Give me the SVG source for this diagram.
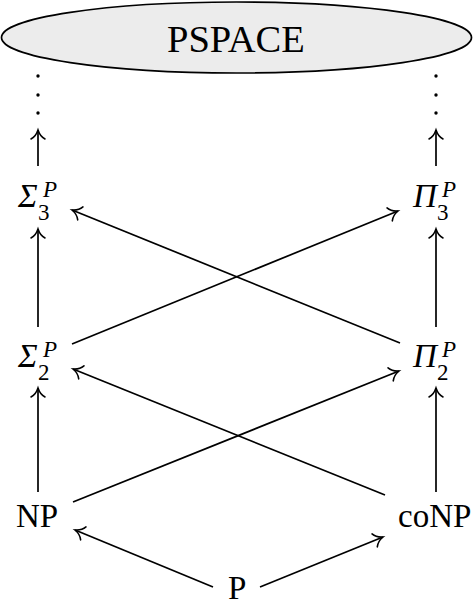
<svg xmlns="http://www.w3.org/2000/svg" width="473" height="607" viewBox="0 0 473 607">
<style>
.t{font-family:"Liberation Serif","Times New Roman",serif;fill:#000}
.m{font-size:33px}
.i{font-style:italic}
.s{font-size:23px}
.c line{stroke:#000;stroke-width:1.7;fill:none;marker-end:url(#ar)}
</style>
<defs>
<marker id="ar" markerUnits="userSpaceOnUse" markerWidth="20" markerHeight="20" refX="0" refY="0" orient="auto" overflow="visible">
<path d="M -9,-7 C -7,-3.2 -2.5,-0.8 0,0 C -2.5,0.8 -7,3.2 -9,7" fill="none" stroke="#000" stroke-width="1.6" stroke-linecap="round"/>
</marker>
</defs>
<g id="pspace">
<ellipse cx="236.5" cy="37.5" rx="235" ry="35.5" fill="#ececec" stroke="#000" stroke-width="1.7"/>
<text class="t" x="167" y="52" font-size="38.5">PSPACE</text>
</g>
<g id="dots-left" fill="#000">
<circle cx="38" cy="76" r="1.7"/><circle cx="38" cy="95" r="1.7"/><circle cx="38" cy="113" r="1.7"/>
</g>
<g id="dots-right" fill="#000">
<circle cx="436" cy="76" r="1.7"/><circle cx="436" cy="95" r="1.7"/><circle cx="436" cy="113" r="1.7"/>
</g>
<g id="sigma3">
<text class="t m i" x="18" y="207">Σ</text>
<text class="t s" x="38" y="220">3</text>
<text class="t s i" x="43" y="197">P</text>
</g>
<g id="pi3">
<text class="t m i" x="413" y="207">Π</text>
<text class="t s" x="437" y="220">3</text>
<text class="t s i" x="442" y="197">P</text>
</g>
<g id="sigma2">
<text class="t m i" x="18" y="367">Σ</text>
<text class="t s" x="38" y="380">2</text>
<text class="t s i" x="43" y="357">P</text>
</g>
<g id="pi2">
<text class="t m i" x="413" y="367">Π</text>
<text class="t s" x="437" y="380">2</text>
<text class="t s i" x="442" y="357">P</text>
</g>
<g id="np"><text class="t m" x="16" y="527">NP</text></g>
<g id="conp"><text class="t m" x="398" y="527">coNP</text></g>
<g id="p"><text class="t m" x="228" y="599">P</text></g>
<g id="connectors" class="c">
<line x1="38" y1="166" x2="38" y2="130"/>
<line x1="436" y1="166" x2="436" y2="130"/>
<line x1="38" y1="327" x2="38" y2="229"/>
<line x1="436" y1="327" x2="436" y2="229"/>
<line x1="38" y1="492" x2="38" y2="388"/>
<line x1="436" y1="492" x2="436" y2="388"/>
<line x1="72" y1="344" x2="398" y2="211"/>
<line x1="400" y1="343" x2="72" y2="210"/>
<line x1="73" y1="502" x2="399" y2="371"/>
<line x1="385" y1="495" x2="73" y2="369"/>
<line x1="213" y1="587" x2="75" y2="530"/>
<line x1="260" y1="587" x2="383" y2="537"/>
</g>
</svg>
